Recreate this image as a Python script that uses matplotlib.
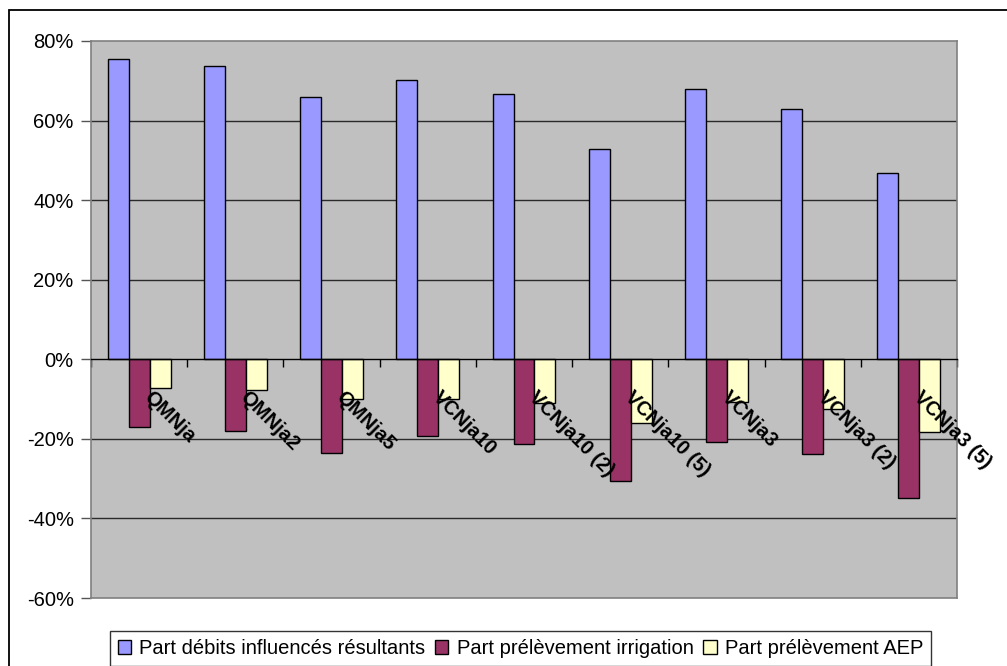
import matplotlib
matplotlib.use("Agg")
import matplotlib.pyplot as plt
import matplotlib.patches as mpatches
from matplotlib.ticker import FuncFormatter, FixedLocator
import numpy as np

categories = ["QMNja", "QMNja2", "QMNja5", "VCNja10", "VCNja10 (2)", "VCNja10 (5)",
              "VCNja3", "VCNja3 (2)", "VCNja3 (5)"]
part_debits = [75.6, 73.8, 65.8, 70.3, 66.8, 52.8, 67.9, 62.9, 46.8]
part_irrigation = [-16.9, -17.9, -23.6, -19.3, -21.4, -30.5, -20.7, -23.8, -34.8]
part_aep = [-7.3, -7.6, -10.0, -10.0, -11.0, -16.1, -10.8, -12.5, -18.2]
series_names = ["Part débits influencés résultants", "Part prélèvement irrigation",
                "Part prélèvement AEP"]
series_colors = ["#9999FF", "#993366", "#FFFFCC"]
y_ticks = [-60, -40, -20, 0, 20, 40, 60, 80]

plt.rcParams["font.family"] = ["Liberation Sans", "DejaVu Sans"]
plt.rcParams["axes.unicode_minus"] = False

W, H = 1007, 666
fig = plt.figure(figsize=(W / 100, H / 100), dpi=100)
fig.patch.set_facecolor("white")

# outer chart frame (cut off on right and bottom)
frame = mpatches.Rectangle((9 / W, -0.2), 1.5, 1.2 - 10 / H, transform=fig.transFigure,
                           fill=False, edgecolor="#000000", lw=1.3, clip_on=False)
fig.add_artist(frame)

ax = fig.add_axes([91 / W, 1 - 598 / H, 866 / W, 557 / H])
ax.set_facecolor("#C0C0C0")

x = np.arange(len(categories))
bw = 0.218
for k, (vals, col) in enumerate(zip([part_debits, part_irrigation, part_aep], series_colors)):
    ax.bar(x + (k - 1) * bw, vals, width=bw, color=col, edgecolor="black", lw=1.0,
           label=series_names[k], zorder=3)

ax.set_xlim(-0.5, len(categories) - 0.5)
ax.set_ylim(-60, 80)

# gridlines
for v in y_ticks:
    if v not in (-60, 0, 80):
        ax.axhline(v, color="#2a2a2a", lw=1.0, zorder=1)

ax.yaxis.set_major_locator(FixedLocator(y_ticks))
ax.yaxis.set_major_formatter(FuncFormatter(lambda v, p: f"{v:.0f}%"))
ax.tick_params(axis="y", direction="out", length=7, width=1, color="#555555",
               labelsize=14.5, pad=5.5)

for s in ["left", "top", "right"]:
    ax.spines[s].set_color("#808080")
    ax.spines[s].set_linewidth(1.2)
ax.spines["bottom"].set_position(("data", 0))
ax.spines["bottom"].set_color("black")
ax.spines["bottom"].set_linewidth(1.0)
ax.spines["bottom"].set_zorder(4)
ax.axhline(-60, color="#808080", lw=1.2, clip_on=False, zorder=2)

ax.xaxis.set_major_locator(FixedLocator(np.arange(-0.5, len(categories) + 0.5, 1.0)))
ax.tick_params(axis="x", direction="out", length=6, width=1, color="black",
               labelbottom=False)

for i, lab in enumerate(categories):
    ax.text(i + 0.15, -7.0, lab, rotation=-45, rotation_mode="anchor", ha="left", va="top",
            fontsize=14.5, fontweight="bold", zorder=6)

handles = [mpatches.Patch(facecolor=c, edgecolor="black", lw=1.0) for c in series_colors]
leg = fig.legend(handles, series_names, loc="upper left",
                 bbox_to_anchor=(110 / W, 1 - 631 / H), ncol=3, fontsize=14.5,
                 frameon=True, fancybox=False, edgecolor="black", borderaxespad=0,
                 handlelength=0.65, handleheight=0.65, handletextpad=0.4,
                 columnspacing=0.5, borderpad=0.4)
leg.get_frame().set_linewidth(1.0)

fig.savefig("out.png", dpi=100)
